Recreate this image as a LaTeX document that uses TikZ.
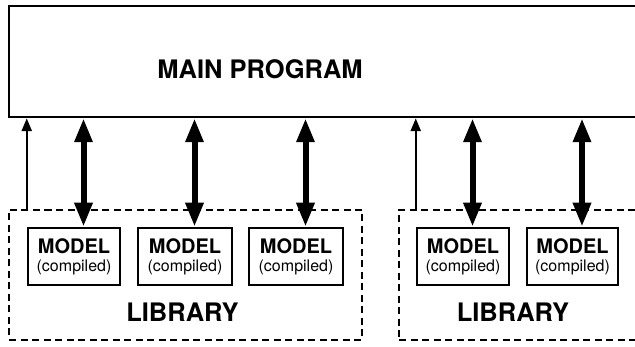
\documentclass[tikz,border=0pt]{standalone}
\usepackage{fontspec}
\setmainfont{TeX Gyre Heros}
\usetikzlibrary{arrows.meta,calc}
\begin{document}
\begin{tikzpicture}[x=1pt,y=-1pt,
  boxline/.style={draw,line width=2.5pt},
  mainbox/.style={boxline,minimum width=660pt,minimum height=111pt,inner sep=0pt},
  libbox/.style={draw,line width=2.5pt,dash pattern=on 7pt off 4.5pt,minimum height=130pt,inner sep=0pt},
  modelbox/.style={boxline,minimum width=92pt,minimum height=57pt,inner sep=0pt,align=center,font=\fontsize{20}{21}\selectfont\bfseries},
  bigarrow/.style={line width=6pt,{Triangle[length=24pt,width=17pt]}-{Triangle[length=24pt,width=17pt]}},
  thinarrow/.style={line width=2.5pt,-{Triangle[length=13pt,width=10pt]}},
  bigtext/.style={font=\fontsize{25.5}{26}\selectfont\bfseries,inner sep=0pt}
]
\useasboundingbox (0,0) rectangle (635,347);
\node[mainbox] (main) at (339,61.5) {};
\node[bigtext] (maintext) at (260,69) {MAIN PROGRAM};
\node[libbox,minimum width=353pt] (lib1) at (185.5,275) {};
\node[libbox,minimum width=260pt] (lib2) at (529,275) {};
\node[bigtext] (libtext1) at (182.5,312) {LIBRARY};
\node[bigtext] (libtext2) at (513,312) {LIBRARY};
\foreach \n/\x/\w in {m1/74/92,m2/185/94,m3/296/94,m4/463/92,m5/572.5/91}{
  \node[modelbox,minimum width=\w pt] (\n) at (\x,256.5) {MODEL\\[-3pt]{\fontsize{16}{17}\selectfont\mdseries (compiled)}};
}
\foreach \n in {m1,m2,m3,m4,m5}{
  \coordinate (a\n) at ($(\n.north)+(9.5,0)$);
  \draw[bigarrow] (a\n |- main.south) -- (a\n);
}
\draw[thinarrow] (m1.west |- lib1.north) -- (m1.west |- main.south);
\draw[thinarrow] (m4.west |- lib2.north) -- (m4.west |- main.south);
\end{tikzpicture}
\end{document}
